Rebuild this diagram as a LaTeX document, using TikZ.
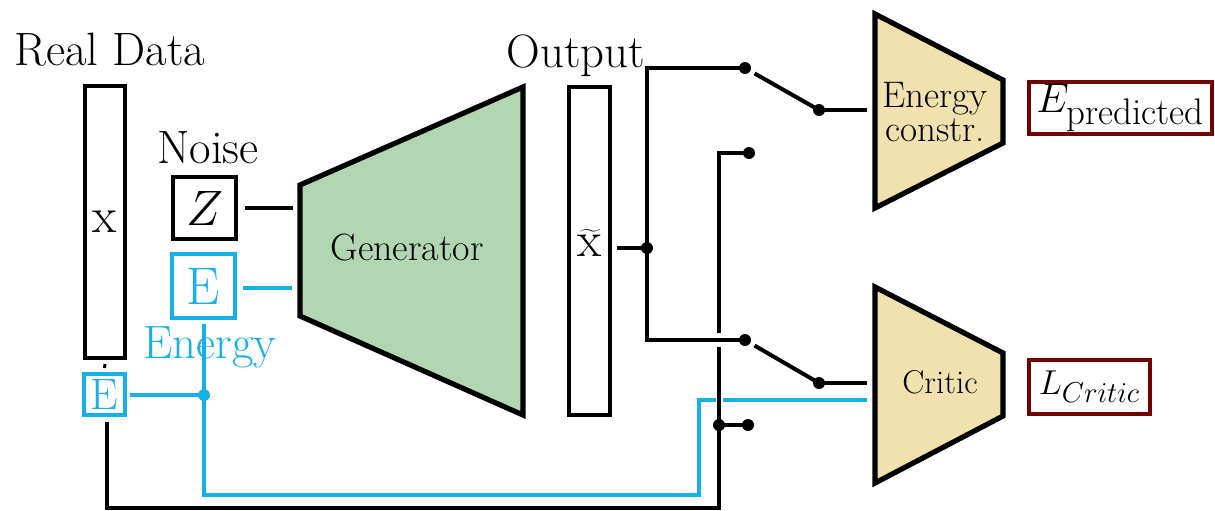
\documentclass[tikz,border=0pt]{standalone}
\definecolor{ecyan}{RGB}{22,176,230}
\definecolor{gfill}{RGB}{178,214,178}
\definecolor{tfill}{RGB}{241,225,174}
\definecolor{dred}{RGB}{115,0,0}
\begin{document}
\begin{tikzpicture}[x=0.5pt,y=-0.5pt,
  wire/.style={line width=2pt, draw=black},
  cwire/.style={line width=2pt, draw=ecyan},
  halo/.style={line width=3.5pt, draw=white},
  blkbox/.style={draw, line width=2pt, inner sep=0pt},
  cbox/.style={draw=ecyan, line width=2pt, inner sep=0pt, text=ecyan},
  rbox/.style={draw=dred, line width=1.6pt, inner sep=0pt, fill=white},
  trap/.style={line width=2.6pt, line join=miter, draw=black},
  jdot/.style={circle, fill=black, inner sep=0pt, minimum size=6pt},
  cdot/.style={circle, fill=ecyan, inner sep=0pt, minimum size=6pt},
  lbl/.style={font=\fontsize{23.4}{26}\selectfont, inner sep=0pt}]
\useasboundingbox (0,0) rectangle (1215,510);

% labels and input boxes
\node[lbl, anchor=base] (realdata) at (110,65) {Real Data};
\node[blkbox, minimum width=20pt, minimum height=136pt, font=\fontsize{25}{25}\selectfont] (xbox) at (105,222) {x};
\node[lbl, anchor=base] (noise) at (208,163) {Noise};
\node[blkbox, minimum width=31.5pt, minimum height=31pt, font=\fontsize{26}{26}\selectfont] (z) at (204.5,208) {$Z$};
\node[cbox, minimum width=31.5pt, minimum height=32pt, font=\fontsize{26.5}{26.5}\selectfont] (en) at (203.5,286) {E};
\node[cbox, minimum width=20.5pt, minimum height=20.5pt, font=\fontsize{22}{22}\selectfont] (er) at (104.5,394.5) {E};

% generator
\draw[trap, fill=gfill] (300,185) -- (523,87) -- (523,415) -- (300,316) -- cycle;
\node[font=\fontsize{19}{19}\selectfont, anchor=base, inner sep=0pt] (gen) at (407,260) {Generator};
\coordinate (gz) at (298,208);
\coordinate (ge) at (298,288);

% output
\node[blkbox, minimum width=20.5pt, minimum height=164pt] (out) at (589.5,251) {};
\node[font=\fontsize{25}{25}\selectfont, inner sep=0pt] (xt) at (590,243) {$\widetilde{\mathrm{x}}$};
\node[lbl, anchor=base] (output) at (576,67) {Output};

% energy constr. and critic
\draw[trap, fill=tfill] (875,14) -- (1003,80) -- (1003,143) -- (875,208) -- cycle;
\node[font=\fontsize{18.5}{17}\selectfont, align=center, inner sep=0pt] (ec) at (935,112) {Energy\\constr.};
\draw[trap, fill=tfill] (875,287) -- (1003,353) -- (1003,416) -- (875,483) -- cycle;
\node[font=\fontsize{16.5}{16}\selectfont, anchor=base, inner sep=0pt] (critic) at (940,393) {Critic};
\coordinate (ecin) at (873,110);
\coordinate (crin) at (873,383);
\coordinate (crin2) at (873,400);

\node[rbox, minimum width=91.5pt, minimum height=26pt, font=\fontsize{22.5}{22}\selectfont] (ep) at (1120.5,108) {$E_{\mbox{\fontsize{18.5}{18}\selectfont predicted}}$};
\node[rbox, minimum width=60.5pt, minimum height=27pt, font=\fontsize{17}{17}\selectfont] (lc) at (1089.5,387) {$L_{\mbox{\fontsize{13.5}{13}\selectfont$Critic$}}$};

% junctions and switch contacts
\node[jdot] (j1) at (647,248) {};
\coordinate (t1) at (647,68);
\coordinate (t2) at (647,340);
\node[jdot] (s1a) at (745,68) {};
\node[jdot] (s1b) at (819,110) {};
\node[jdot] (s2a) at (745,340) {};
\node[jdot] (s2b) at (819,383) {};
\node[jdot] (s3a) at (749,153) {};
\node[jdot] (j2) at (719,425) {};
\node[jdot] (s3b) at (748,425) {};
\coordinate (v1) at (719,153);
\coordinate (b1) at (107,508);
\coordinate (b2) at (719,508);
\node[cdot] (cj) at (204,395) {};
\coordinate (cb1) at (204,495);
\coordinate (cb2) at (699,495);
\coordinate (cb3) at (699,400);

% cyan energy wires
\draw[cwire, shorten <=3pt, shorten >=3pt] (en.east |- ge) -- (ge);
\draw[cwire, shorten <=1.5pt] (er.east |- cj) -- (cj.center);
\draw[cwire, shorten <=2pt] (en.south -| cj) -- (cj.center);
\draw[cwire, shorten >=3pt] (cj.center) -- (cb1) -- (cb2) -- (cb3) -- (crin2);
\node[lbl, anchor=base, text=ecyan] (energy) at (210,358) {Energy};

% black wires
\draw[line width=1.5pt, shorten <=2pt, shorten >=2pt] (xbox.south) -- (er.north);
\draw[wire, shorten <=3.5pt, shorten >=2.5pt] (z.east |- gz) -- (gz);
\draw[halo] (719,395) -- (719,405);
\draw[wire, shorten <=2.5pt] (b1 |- er.south) -- (b1) -- (b2) -- (v1) -- (s3a.center);
\draw[wire] (j2.center) -- (s3b.center);
\draw[wire, shorten <=2.5pt] (out.east |- j1) -- (j1.center);
\draw[line width=5pt, draw=white] (719,333) -- (719,347);
\draw[wire] (j1.center) -- (t1) -- (s1a.center);
\draw[wire] (j1.center) -- (t2) -- (s2a.center);
\draw[wire, shorten <=5.5pt] (s1a.center) -- (s1b.center);
\draw[wire, shorten >=3pt] (s1b.center) -- (ecin);
\draw[wire, shorten <=5.5pt] (s2a.center) -- (s2b.center);
\draw[wire, shorten >=3pt] (s2b.center) -- (crin);
\end{tikzpicture}
\end{document}
